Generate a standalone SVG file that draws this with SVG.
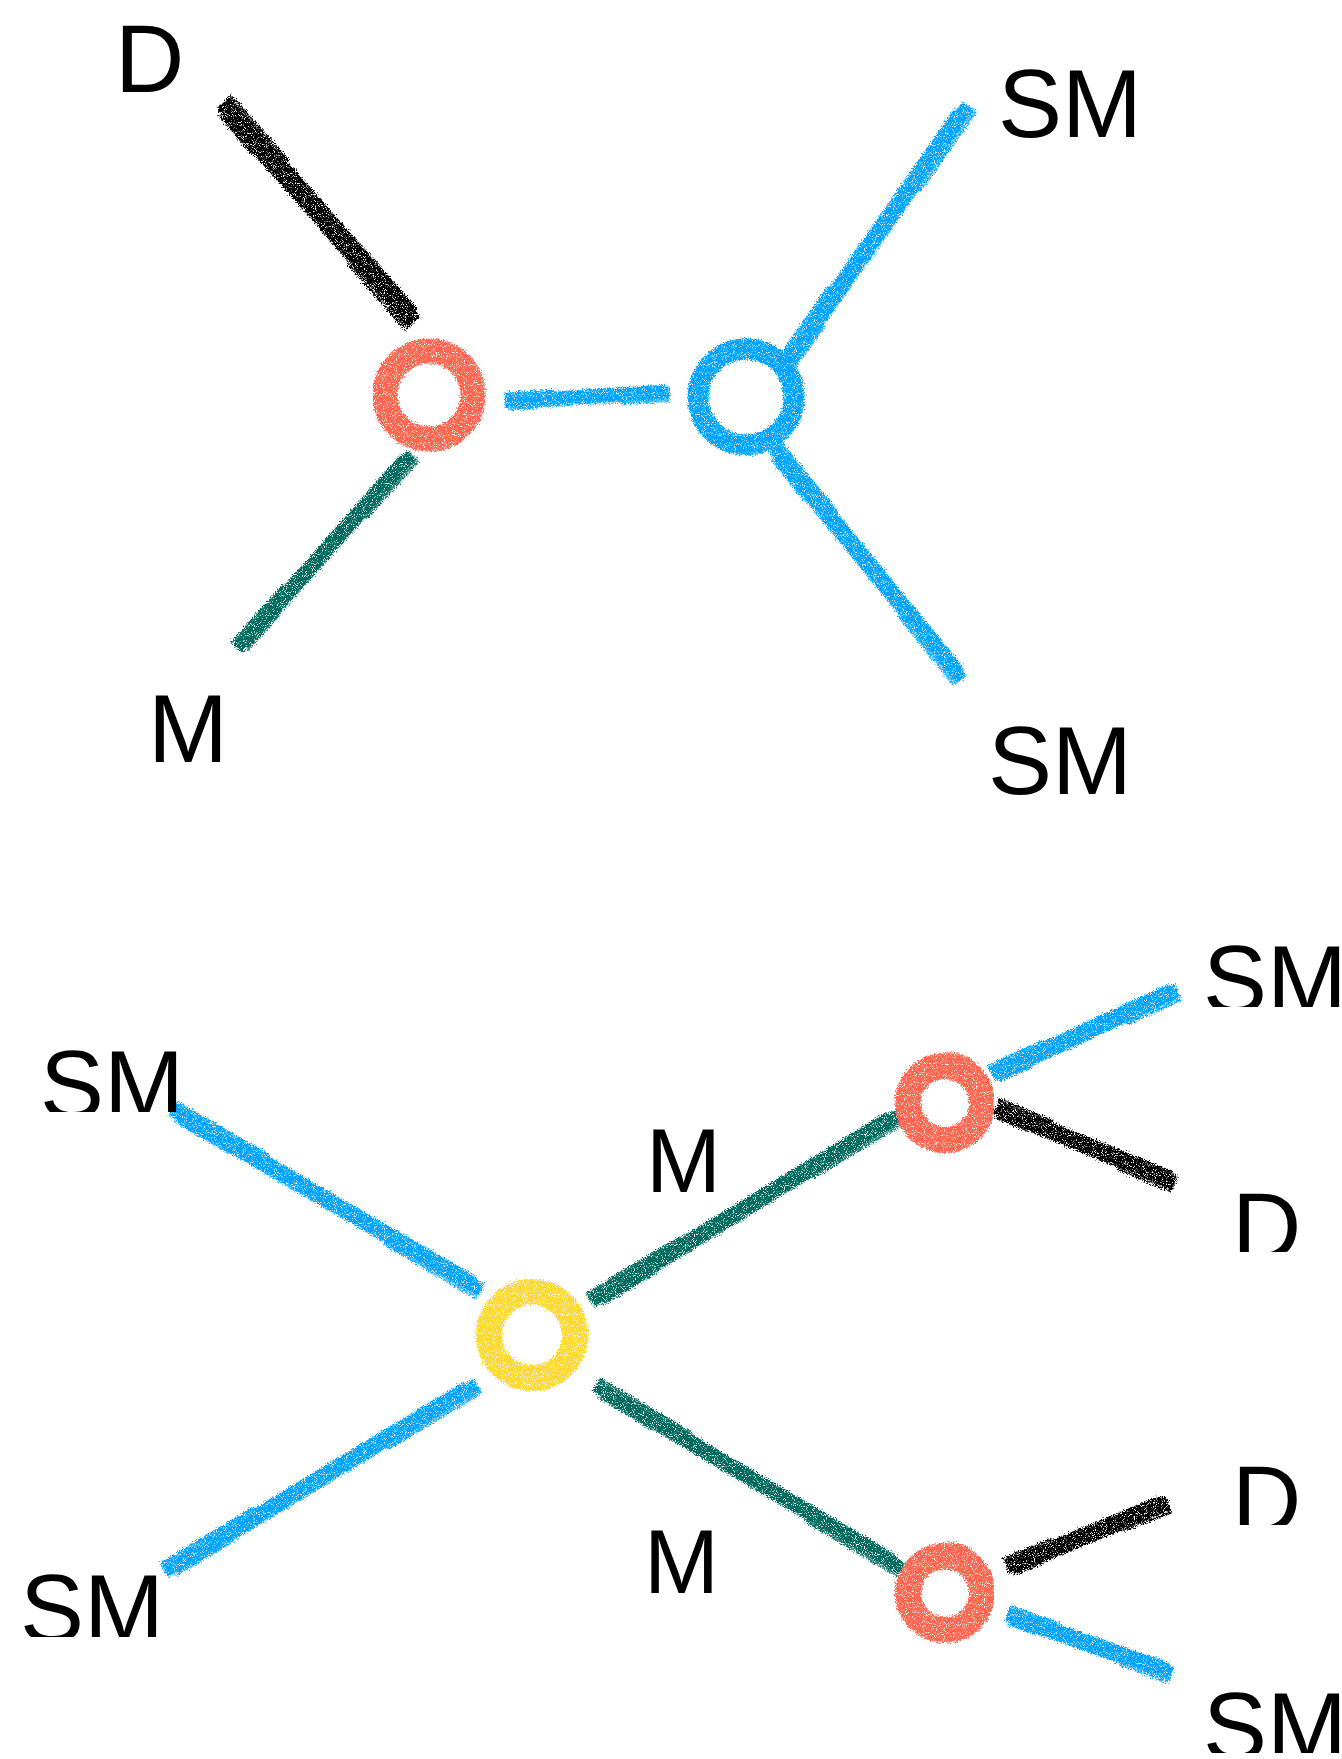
<svg xmlns="http://www.w3.org/2000/svg" xmlns:xlink="http://www.w3.org/1999/xlink" width="1342" height="1759" viewBox="0 0 1342 1759">
  <style>
    .lbl { font-family: "Liberation Sans", Arial, Helvetica, sans-serif; font-size: 96px; fill: #000; }
    .lbl.sm { font-size: 90px; }
    .blue { stroke: #00A3FF; }
    .green { stroke: #006B5F; }
    .black { stroke: #000; }
    .red { stroke: #FF6650; }
    .yellow { stroke: #FFD932; }
    .ring circle, .ring path { fill: none; }
    .brush path { fill: none; stroke-linecap: butt; }
  </style>
  <defs>
    <!-- crayon texture: rough edges plus scattered grain -->
    <filter id="chalk" x="-2%" y="-2%" width="104%" height="104%" filterUnits="objectBoundingBox">
      <feTurbulence type="fractalNoise" baseFrequency="0.85" numOctaves="2" seed="4" result="noise"/>
      <feDisplacementMap in="SourceGraphic" in2="noise" scale="7" xChannelSelector="R" yChannelSelector="G" result="rough"/>
      <feTurbulence type="fractalNoise" baseFrequency="1.1" numOctaves="1" seed="11" result="grain"/>
      <feColorMatrix in="grain" type="matrix" values="0 0 0 0 0  0 0 0 0 0  0 0 0 0 0  0 0 0 -7 4.9" result="mask"/>
      <feComposite in="rough" in2="mask" operator="in"/>
    </filter>
    <!-- one brush stroke, 100 units long along x; scaled per connector -->
    <g id="brush" class="brush">
      <path d="M0,0 L100,0" stroke-width="12"/>
      <path d="M0,-6 L97,-6.5" stroke-width="3.5"/>
      <path d="M3,6 L100,6" stroke-width="3.5"/>
      <path d="M0,-9 L30,-9" stroke-width="2"/>
      <path d="M70,9 L100,9.5" stroke-width="2"/>
      <path d="M2,8 L20,8.5" stroke-width="1.5"/>
    </g>
    <clipPath id="clip-smTL"><rect x="0" y="0" width="400" height="1112"/></clipPath>
    <clipPath id="clip-smBL"><rect x="0" y="0" width="400" height="1637"/></clipPath>
    <clipPath id="clip-smTR"><rect x="1100" y="0" width="242" height="1007"/></clipPath>
    <clipPath id="clip-d1"><rect x="1100" y="0" width="242" height="1252"/></clipPath>
    <clipPath id="clip-d2"><rect x="1100" y="0" width="242" height="1525"/></clipPath>
    <clipPath id="clip-smBR"><rect x="1100" y="0" width="242" height="1753"/></clipPath>
  </defs>

  <rect x="0" y="0" width="1342" height="1759" fill="#fff"/>

  <!-- connectors -->
  <g id="connectors" filter="url(#chalk)">
    <!-- upper diagram -->
    <g class="black" transform="translate(222,103) rotate(48.6)"><use xlink:href="#brush" transform="scale(2.92,1.3)"/></g>
    <g class="blue" transform="translate(780,373) rotate(-54.95)"><use xlink:href="#brush" transform="scale(3.27,1.1)"/></g>
    <g class="blue" transform="translate(505,402) rotate(-3.47)"><use xlink:href="#brush" transform="scale(1.65,0.95)"/></g>
    <g class="green" transform="translate(238,649) rotate(-48.26)"><use xlink:href="#brush" transform="scale(2.61,1)"/></g>
    <g class="blue" transform="translate(774,449) rotate(50.74)"><use xlink:href="#brush" transform="scale(2.97,1.05)"/></g>
    <!-- lower diagram -->
    <g class="blue" transform="translate(172,1110) rotate(30.14)"><use xlink:href="#brush" transform="scale(3.58,1.05)"/></g>
    <g class="blue" transform="translate(165,1572) rotate(-31.07)"><use xlink:href="#brush" transform="scale(3.64,1.05)"/></g>
    <g class="green" transform="translate(591,1302) rotate(-31.32)"><use xlink:href="#brush" transform="scale(3.62,1.05)"/></g>
    <g class="green" transform="translate(595,1386) rotate(30.66)"><use xlink:href="#brush" transform="scale(3.57,1)"/></g>
    <g class="blue" transform="translate(992,1075) rotate(-24.68)"><use xlink:href="#brush" transform="scale(2.04,1.1)"/></g>
    <g class="black" transform="translate(995,1108) rotate(22.35)"><use xlink:href="#brush" transform="scale(1.95,1.1)"/></g>
    <g class="black" transform="translate(1007,1568) rotate(-22.29)"><use xlink:href="#brush" transform="scale(1.74,1.1)"/></g>
    <g class="blue" transform="translate(1007,1615) rotate(19.37)"><use xlink:href="#brush" transform="scale(1.75,1.05)"/></g>
  </g>

  <!-- vertices -->
  <g id="nodes" filter="url(#chalk)">
    <g id="vertex-red-top" class="ring red">
      <circle cx="429" cy="395" r="44" stroke-width="25"/>
      <path d="M400,355 A47,47 0 0 1 474,380" stroke-width="8"/>
    </g>
    <g id="vertex-blue-top" class="ring blue">
      <circle cx="746" cy="397" r="48" stroke-width="21"/>
      <path d="M712,358 A50,50 0 0 1 770,352" stroke-width="8"/>
    </g>
    <g id="vertex-yellow" class="ring yellow">
      <circle cx="532" cy="1335" r="43" stroke-width="26"/>
      <path d="M505,1293 A45,45 0 0 1 560,1292" stroke-width="7"/>
    </g>
    <g id="vertex-red-upper" class="ring red">
      <circle cx="945" cy="1103" r="37" stroke-width="26"/>
      <path d="M920,1068 A40,40 0 0 1 970,1062" stroke-width="7"/>
    </g>
    <g id="vertex-red-lower" class="ring red">
      <circle cx="945" cy="1593" r="37" stroke-width="26"/>
      <path d="M920,1558 A40,40 0 0 1 970,1552" stroke-width="7"/>
    </g>
  </g>

  <!-- external legs: labels -->
  <g id="label-d-top"><text class="lbl" x="115" y="92">D</text></g>
  <g id="label-m-top"><text class="lbl" x="148" y="762">M</text></g>
  <g id="label-sm-top-upper"><text class="lbl" x="998" y="137">SM</text></g>
  <g id="label-sm-top-lower"><text class="lbl" x="988" y="794">SM</text></g>

  <g id="label-sm-in-upper"><text class="lbl" x="40" y="1118" clip-path="url(#clip-smTL)">SM</text></g>
  <g id="label-sm-in-lower"><text class="lbl" x="20" y="1642" clip-path="url(#clip-smBL)">SM</text></g>
  <g id="label-m-upper"><text class="lbl sm" x="646" y="1192">M</text></g>
  <g id="label-m-lower"><text class="lbl sm" x="644" y="1593">M</text></g>
  <g id="label-sm-out-1"><text class="lbl" x="1203" y="1013" clip-path="url(#clip-smTR)">SM</text></g>
  <g id="label-d-out-1"><text class="lbl" x="1232" y="1260" clip-path="url(#clip-d1)">D</text></g>
  <g id="label-d-out-2"><text class="lbl" x="1232" y="1533" clip-path="url(#clip-d2)">D</text></g>
  <g id="label-sm-out-2"><text class="lbl" x="1203" y="1760" clip-path="url(#clip-smBR)">SM</text></g>
</svg>
